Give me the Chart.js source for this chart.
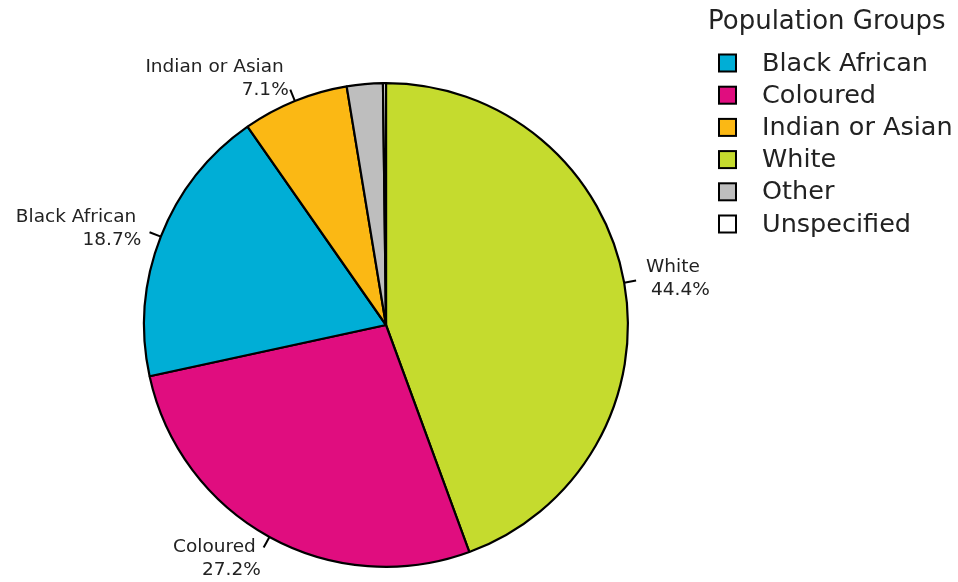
<!DOCTYPE html>
<html>
<head>
<meta charset="utf-8">
<script src="https://cdn.jsdelivr.net/npm/chart.js@4"></script>
<style>
  html, body { margin: 0; padding: 0; background: #fff; }
  #wrap { width: 958px; height: 582px; }
</style>
</head>
<body>
<div id="wrap"><canvas id="pie"></canvas></div>
<script>
// slices in drawing order (clockwise from 12 o'clock)
const groups = ['White', 'Coloured', 'Black African', 'Indian or Asian', 'Other', 'Unspecified'];
const shares = [44.4, 27.2, 18.7, 7.1, 2.4, 0.2];
const colours = ['#c5db2e', '#e00d7f', '#00aed6', '#fbb814', '#bebebe', '#ffffff'];
// which slices get an outside label
const labelled = ['White', 'Coloured', 'Black African', 'Indian or Asian'];
// legend order as in the original
const legendTitle = 'Population Groups';
const legendOrder = ['Black African', 'Coloured', 'Indian or Asian', 'White', 'Other', 'Unspecified'];

const FONT = '"DejaVu Sans", Verdana, sans-serif';

// leader ticks + two-line labels outside the pie
const outsideLabels = {
    id: 'outsideLabels',
    afterDatasetsDraw(chart) {
        const ctx = chart.ctx;
        const arcs = chart.getDatasetMeta(0).data;
        ctx.save();
        ctx.strokeStyle = '#000';
        ctx.lineWidth = 2;
        ctx.fillStyle = '#222';
        ctx.font = '18.5px ' + FONT;
        ctx.textBaseline = 'middle';
        arcs.forEach((arc, i) => {
            if (!labelled.includes(groups[i])) return;
            const p = arc.getProps(['x', 'y', 'startAngle', 'endAngle', 'outerRadius'], true);
            const mid = (p.startAngle + p.endAngle) / 2;
            const cx = Math.cos(mid), cy = Math.sin(mid);
            const r = p.outerRadius;
            ctx.beginPath();
            ctx.moveTo(p.x + cx * r, p.y + cy * r);
            ctx.lineTo(p.x + cx * r * 1.05, p.y + cy * r * 1.05);
            ctx.stroke();
            const lx = p.x + cx * r * 1.1, ly = p.y + cy * r * 1.1;
            ctx.textAlign = cx < 0 ? 'right' : 'left';
            ctx.fillText(groups[i], lx - 2, ly - 11);
            ctx.fillText(shares[i].toFixed(1) + '%', lx + 3, ly + 12);
        });
        ctx.restore();
    }
};

// legend on the right, in the original's order
const sideLegend = {
    id: 'sideLegend',
    afterDraw(chart) {
        const ctx = chart.ctx;
        ctx.save();
        ctx.fillStyle = '#222';
        ctx.textBaseline = 'middle';
        ctx.textAlign = 'left';
        ctx.font = '26px ' + FONT;
        ctx.fillText(legendTitle, 708, 22);
        ctx.font = '25.5px ' + FONT;
        legendOrder.forEach((name, k) => {
            const y = 63 + k * 32.2;
            const idx = groups.indexOf(name);
            ctx.fillStyle = colours[idx];
            ctx.fillRect(719, y - 8.5, 17, 17);
            ctx.strokeStyle = '#000';
            ctx.lineWidth = 2;
            ctx.strokeRect(719, y - 8.5, 17, 17);
            ctx.fillStyle = '#222';
            ctx.fillText(name, 762, y + 1);
        });
        ctx.restore();
    }
};

new Chart(document.getElementById('pie'), {
    type: 'pie',
    data: {
        labels: groups,
        datasets: [{
            data: shares,
            backgroundColor: colours,
            borderColor: '#000',
            borderWidth: 2.2
        }]
    },
    options: {
        responsive: true,
        maintainAspectRatio: false,
        animation: false,
        layout: { padding: { left: 143, right: 329, top: 82, bottom: 14 } },
        plugins: {
            legend: { display: false },
            tooltip: { enabled: false }
        }
    },
    plugins: [outsideLabels, sideLegend]
});
</script>
</body>
</html>
